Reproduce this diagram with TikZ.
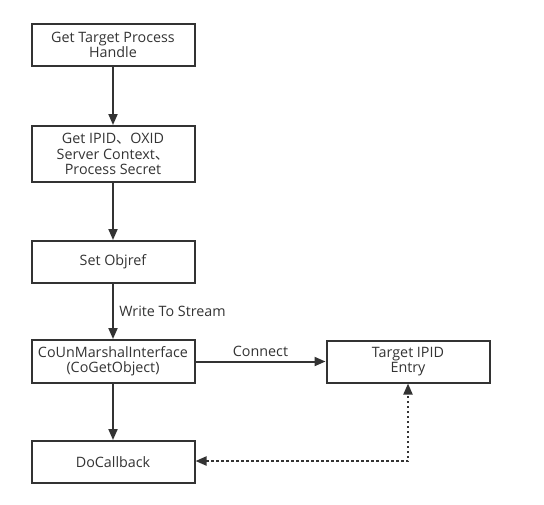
\documentclass[tikz,border=0pt]{standalone}
\usepackage{fontspec}
\setmainfont{Open Sans}
\newfontfamily\cjk{Noto Sans CJK SC}
\usetikzlibrary{arrows.meta,positioning}
\definecolor{ln}{HTML}{333333}
\tikzset{
  box/.style={draw=ln, line width=2pt, minimum width=163pt, align=center, inner sep=0pt, font=\fontsize{14.3}{15.2}\selectfont, text=ln},
  conn/.style={draw=ln, line width=2pt, -{Triangle[length=11pt,width=9pt]}},
  dconn/.style={draw=ln, line width=2pt, dash pattern=on 2.5pt off 2.5pt, {Triangle[length=11pt,width=9pt]}-{Triangle[length=11pt,width=9pt]}},
  lbl/.style={font=\fontsize{14.3}{15.2}\selectfont, text=ln}
}
\begin{document}
\begin{tikzpicture}[x=1pt,y=1pt]
\useasboundingbox (0,0) rectangle (544,-504);
\node[box, minimum height=42pt] (a) at (113,-45) {Get Target Process\\Handle};
\node[box, minimum height=56pt] (b) at (113,-154) {Get IPID{\cjk 、}OXID\\Server Context{\cjk 、}\\Process Secret};
\node[box, minimum height=42pt] (c) at (113,-262) {Set Objref};
\node[box, minimum height=43pt] (d) at (113,-361.5) {CoUnMarshalInterface\\(CoGetObject)};
\node[box, minimum height=42pt] (e) at (113,-462) {DoCallback};
\node[box, minimum height=42pt] (f) at (408,-361.5) {Target IPID\\Entry};
\coordinate (k) at (408,-461);
\draw[conn] (a) -- (b);
\draw[conn] (b) -- (c);
\draw[conn] (c) -- node[lbl, right=2pt, pos=0.5] (w) {Write To Stream} (d);
\draw[conn] (d) -- node[lbl, above=1pt] (cn) {Connect} (f);
\draw[conn] (d) -- (e);
\draw[dconn] (e.east |- k) -- (k) -- (f.south);
\end{tikzpicture}
\end{document}
